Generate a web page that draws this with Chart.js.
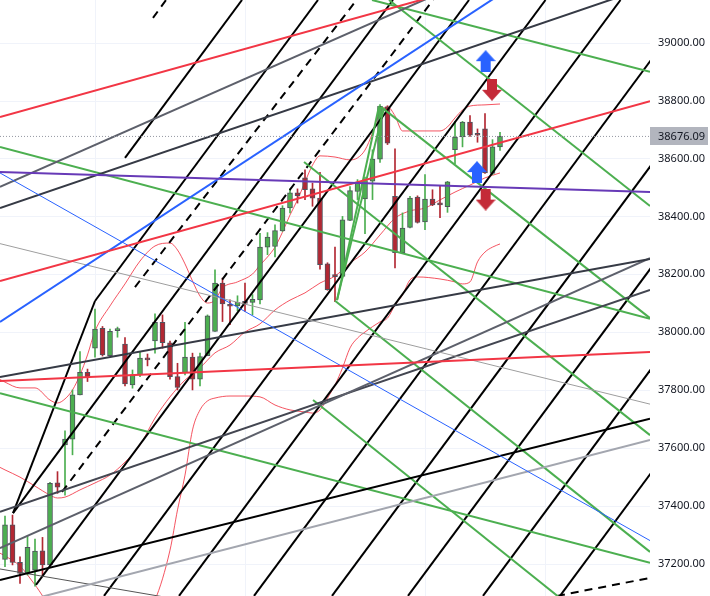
<!DOCTYPE html>
<html>
<head>
<meta charset="utf-8">
<script src="https://cdn.jsdelivr.net/npm/chart.js@4.4.1/dist/chart.umd.min.js"></script>
<style>
  html, body { margin: 0; padding: 0; background: #fff; }
</style>
</head>
<body>
<canvas id="chart" width="710" height="596"></canvas>
<script>
// Candles (one per bar, index 0..66)
const opens  = [37216,37335,37206,37168,37179,37246,37197,37480,37611,37631,
                37784,37862,37945,38014,37919,38006,37959,37818,37853,37911,
                37970,38034,37964,37847,37861,37914,37838,37919,38003,38170,
                38095,38091,38106,38103,38112,38294,38296,38350,38429,38481,
                38533,38495,38463,38236,38195,38193,38386,38486,38460,38522,
                38598,38778,38469,38275,38362,38467,38381,38460,38442,38434,
                38630,38674,38726,38683,38702,38548,38640];
const highs  = [37366,37369,37225,37297,37286,37292,37482,37519,37660,37801,
                37933,37873,38080,38020,38011,38018,37982,37870,37933,37925,
                38064,38060,37970,37893,38034,37928,37928,38060,38216,38187,
                38112,38126,38170,38130,38342,38344,38371,38437,38495,38495,
                38561,38515,38552,38240,38294,38400,38503,38527,38536,38630,
                38786,38782,38633,38412,38469,38471,38544,38492,38506,38521,
                38728,38728,38748,38702,38755,38665,38690];
const lows   = [37191,37197,37133,37162,37124,37156,37195,37444,37438,37577,
                37784,37830,37914,37918,37919,37983,37815,37807,37847,37884,
                37928,37945,37838,37801,37853,37801,37815,37919,38003,38037,
                38026,38074,38072,38060,38098,38268,38260,38348,38412,38446,
                38458,38435,38218,38145,38106,38190,38385,38458,38340,38458,
                38586,38648,38222,38273,38360,38377,38354,38437,38396,38414,
                38582,38640,38676,38656,38548,38544,38628];
const closes = [37335,37206,37168,37258,37245,37197,37479,37465,37631,37784,
                37862,37847,38011,37922,38003,38008,37822,37853,37911,37905,
                38034,37964,37847,37810,37914,37838,37916,38057,38170,38098,
                38090,38103,38100,38114,38294,38329,38351,38429,38481,38472,
                38492,38463,38233,38147,38192,38388,38489,38515,38524,38598,
                38780,38653,38275,38360,38463,38379,38460,38440,38440,38519,
                38674,38726,38680,38680,38550,38640,38676.09];
const lastPrice = 38676.09;

// Bollinger bands, [bar index, price]
const bbUpper = [[-1,37842],[0,37828],[2,37808],[4,37808],[6,37766],[7,37756],[8,37770],[9,37801],
  [10,37853],[11,37922],[12,38004],[14,38091],[16,38167],[18,38246],[20,38298],[22,38308],[23,38284],
  [24,38236],[25,38177],[26,38125],[27,38101],[28,38111],[29,38153],[31,38174],[33,38201],[34,38232],
  [35,38260],[36,38294],[37,38346],[38,38405],[39,38457],[40,38519],[41,38577],[42,38609],[44,38605],
  [46,38595],[47,38602],[48,38629],[49,38688],[50,38760],[51,38778],[52,38747],[53,38695],[55,38695],
  [58,38695],[59,38709],[60,38740],[61,38767],[62,38781],[64,38785],[66,38788]];
const bbMiddle = [[-1,37538],[0,37525],[2,37500],[4,37469],[6,37438],[7,37428],[8,37431],[10,37456],
  [12,37480],[14,37507],[16,37552],[18,37611],[20,37704],[22,37777],[24,37835],[26,37877],[28,37929],
  [30,37956],[32,38001],[34,38029],[36,38077],[38,38111],[40,38136],[42,38170],[44,38194],[46,38239],
  [48,38277],[50,38336],[52,38394],[54,38419],[56,38429],[58,38457],[60,38484],[62,38508],[64,38533],[66,38550]];
const bbLower = [[-1,37242],[0,37228],[2,37193],[4,37128],[6,37059],[8,37041],[12,36972],[16,36938],
  [20,37076],[22,37248],[23,37387],[24,37507],[25,37663],[26,37732],[27,37763],[28,37773],[30,37780],
  [32,37780],[34,37777],[36,37749],[38,37732],[40,37725],[41,37721],[42,37732],[43,37773],[44,37818],
  [45,37877],[46,37946],[47,37980],[48,38001],[50,38036],[51,38049],[52,38094],[53,38129],[54,38181],
  [55,38191],[58,38184],[60,38174],[61,38167],[62,38174],[63,38243],[64,38277],[65,38294],[66,38305]];

// Axes
const priceTicks = [37200,37400,37600,37800,38000,38200,38400,38600,38800,39000];
const timeGrid = [12, 32, 56, 72];
const xMin = -0.667, xMax = 86, yMin = 37089.7, yMax = 39147;

// Drawn lines, [bar index, price] end points
const purpleLine = [[-0.67,38553],[86,38484]];
const redLines = [
  [[-0.67,38743],[86,39367]],
  [[-0.67,38177],[86,38798]],
  [[-0.67,37832],[86,37932]]
];
const blueLine = [[-0.67,38036],[86,39505]];
const blueThinLine = [[-0.67,38550],[86,37281]];
const grayThinLine = [[-0.67,38306],[86,37752]];
const darkLines = [
  [[-0.67,38429],[86,39194]],
  [[-0.67,37846],[86,38253]]
];
const grayLines = [
  [[-0.67,38502],[86,39491]],
  [[-0.67,37255],[86,38256]]
];
const slateLine = [[-0.67,37380],[86,38146]];
const blackLow = [[-0.67,37145],[86,37702]];
const silverLine = [[-0.67,37050],[86,37628]];
const thinGrayLow = [[-0.67,37183],[86,36800]];
const greenLines = [
  [[48.93,39147],[86,38899]],
  [[-0.67,38640],[86,38047]],
  [[50.13,38778],[86,38049]],
  [[51.2,39147],[86,38436]],
  [[39.87,38588],[86,37645]],
  [[44,38109],[86,37242]],
  [[41.07,37766],[86,36834]],
  [[-0.67,37790],[86,37204]],
  [[44.27,38111],[49.87,38781]],
  [[44.27,38111],[50.53,38774]]
];
const fanLines = [
  [[1.07,37376],[12,38108]],
  [[16,38602],[31.6,39147]],
  [[12,38108],[41.73,39147]],
  [[1.07,37376],[51.73,39147]],
  [[4.13,37128],[61.87,39147]],
  [[13.2,37090],[72.07,39147]],
  [[23.2,37090],[82.07,39147]],
  [[33.2,37090],[92.07,39147]],
  [[43.6,37090],[102.47,39147]],
  [[53.73,37090],[112.6,39147]],
  [[63.73,37090],[122.6,39147]],
  [[74,37090],[132.87,39147]]
];
const dashedLines = [
  [[7.6,37449],[57.07,39147]],
  [[17.33,38156],[46.88,39147]],
  [[73.6,37090],[86,37152]],
  [[19.73,39085],[21.47,39147]]
];
const arrowsUp = [[64.09,38936],[62.93,38553]];
const arrowsDown = [[64.93,38837],[64.09,38458]];

const GREEN = '#4caf50', CANDLE_RED = '#b22833';
const FONT = '11px "Noto Sans"';

function pts(arr) { return arr.map(([x, y]) => ({ x, y })); }

function seg(p, color, width, dash) {
  return {
    type: 'line', data: pts(p), borderColor: color, borderWidth: width,
    borderDash: dash || [], pointRadius: 0, tension: 0, fill: false, order: 1
  };
}

function band(p) {
  return {
    type: 'line', data: pts(p), borderColor: 'rgba(242,54,69,0.85)', borderWidth: 1,
    pointRadius: 0, cubicInterpolationMode: 'monotone', fill: false, order: 7
  };
}

function arrowImg(color, up) {
  const c = document.createElement('canvas');
  c.width = 20; c.height = 22;
  const g = c.getContext('2d');
  g.fillStyle = color;
  g.beginPath();
  if (up) {
    g.moveTo(10, 0); g.lineTo(20, 11); g.lineTo(15, 11); g.lineTo(15, 22);
    g.lineTo(5, 22); g.lineTo(5, 11); g.lineTo(0, 11);
  } else {
    g.moveTo(5, 0); g.lineTo(15, 0); g.lineTo(15, 11); g.lineTo(20, 11);
    g.lineTo(10, 22); g.lineTo(0, 11); g.lineTo(5, 11);
  }
  g.closePath();
  g.fill();
  return c;
}

const bars = opens.map((_, i) => i);
const isUp = bars.map(i => closes[i] >= opens[i]);

const datasets = [
  {
    type: 'bar', data: bars.map(i => ({ x: i, y: [lows[i], highs[i]] })),
    backgroundColor: isUp.map(u => u ? GREEN : CANDLE_RED),
    barThickness: 1, grouped: false, order: 6
  },
  {
    type: 'bar', data: bars.map(i => ({ x: i, y: [opens[i], closes[i]] })),
    backgroundColor: isUp.map(u => u ? GREEN : CANDLE_RED),
    borderColor: '#50535e', borderWidth: 1, borderSkipped: false,
    barThickness: 5, minBarLength: 2, grouped: false, order: 5
  },
  band(bbUpper), band(bbMiddle), band(bbLower),
  seg([[xMin, lastPrice], [xMax, lastPrice]], '#9598a1', 1, [1, 2]),
  seg(purpleLine, '#673ab7', 2),
  ...redLines.map(l => seg(l, '#f23645', 2)),
  seg(blueLine, '#2962ff', 2),
  seg(blueThinLine, '#2962ff', 1),
  seg(grayThinLine, '#9e9e9e', 1),
  ...darkLines.map(l => seg(l, '#363a45', 2)),
  ...grayLines.map(l => seg(l, '#5d606b', 2)),
  seg(slateLine, '#434651', 2),
  seg(blackLow, '#000000', 2),
  seg(silverLine, '#a3a6af', 2),
  seg(thinGrayLow, '#555555', 1),
  ...greenLines.map(l => seg(l, GREEN, 2)),
  ...fanLines.map(l => seg(l, '#000000', 2)),
  ...dashedLines.map(l => seg(l, '#000000', 2, [8, 6])),
  {
    type: 'line', showLine: false, data: pts(arrowsUp),
    pointStyle: arrowImg('#2962ff', true), pointRadius: 10, order: 0
  },
  {
    type: 'line', showLine: false, data: pts(arrowsDown),
    pointStyle: arrowImg('#c42b38', false), pointRadius: 10, order: 0
  }
];

// grid, price labels and last-price tag, placed with the chart's own scales
const axisPainter = {
  id: 'axisPainter',
  beforeDatasetsDraw(chart) {
    const { ctx, chartArea: a, scales: { x, y } } = chart;
    ctx.save();
    ctx.strokeStyle = '#f0f3fa';
    ctx.lineWidth = 1;
    ctx.beginPath();
    priceTicks.forEach(v => {
      const py = Math.round(y.getPixelForValue(v)) + 0.5;
      ctx.moveTo(a.left, py); ctx.lineTo(a.right, py);
    });
    timeGrid.forEach(v => {
      const px = Math.round(x.getPixelForValue(v)) + 0.5;
      ctx.moveTo(px, a.top); ctx.lineTo(px, a.bottom);
    });
    ctx.stroke();
    ctx.restore();
  },
  afterDraw(chart) {
    const { ctx, chartArea: a, scales: { y } } = chart;
    ctx.save();
    ctx.font = FONT;
    ctx.textBaseline = 'middle';
    ctx.fillStyle = '#131722';
    priceTicks.forEach(v => {
      ctx.fillText(v.toFixed(2), a.right + 8, y.getPixelForValue(v));
    });
    const ty = Math.round(y.getPixelForValue(lastPrice));
    ctx.fillStyle = '#b2b5be';
    ctx.fillRect(a.right, ty - 9, 58, 18);
    ctx.fillStyle = '#131722';
    ctx.fillText(lastPrice.toFixed(2), a.right + 8, ty + 0.5);
    ctx.restore();
  }
};

new Chart(document.getElementById('chart'), {
  type: 'bar',
  data: { datasets },
  plugins: [axisPainter],
  options: {
    responsive: false,
    animation: false,
    layout: { autoPadding: false, padding: { left: 0, top: 0, bottom: 0, right: 60 } },
    plugins: { legend: { display: false }, tooltip: { enabled: false } },
    scales: {
      x: { type: 'linear', min: xMin, max: xMax, offset: false, display: false },
      y: { type: 'linear', min: yMin, max: yMax, display: false }
    }
  }
});
</script>
</body>
</html>
